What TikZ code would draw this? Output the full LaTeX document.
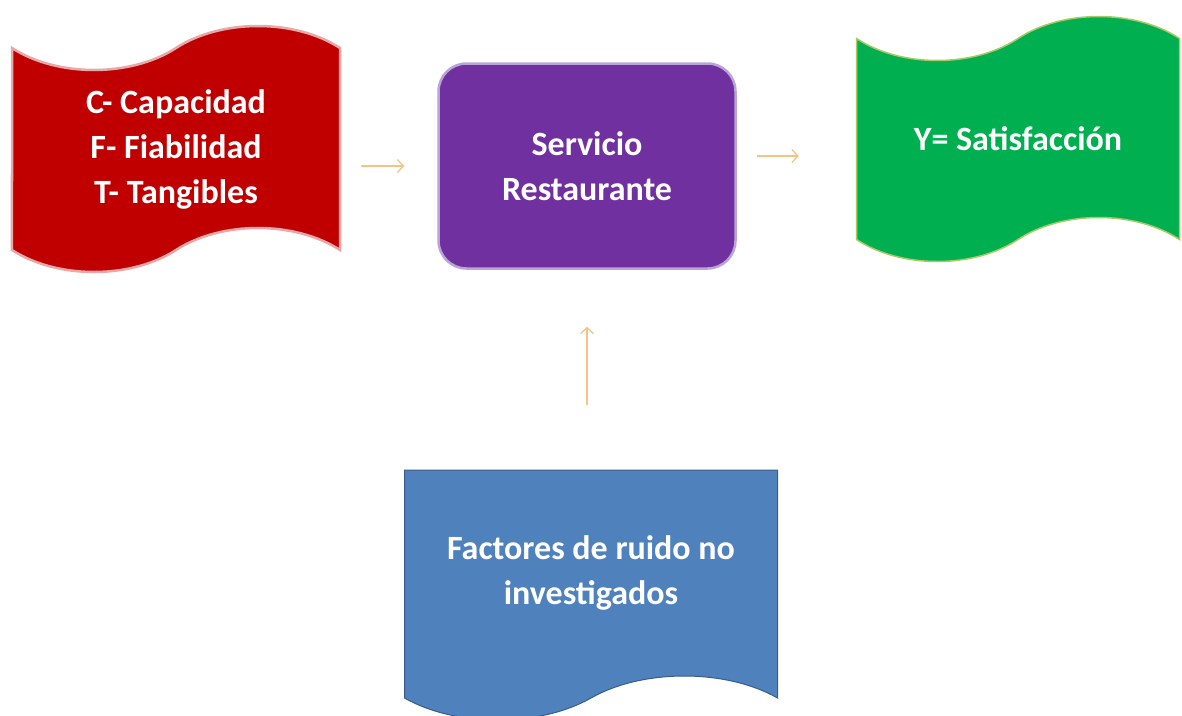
\documentclass[tikz,border=0pt]{standalone}
\usepackage{fontspec}
\setmainfont{Carlito}
\usetikzlibrary{shapes.symbols, arrows.meta, positioning}
\definecolor{factred}{RGB}{192,0,0}
\definecolor{factredline}{RGB}{232,168,168}
\definecolor{servpurple}{RGB}{112,48,160}
\definecolor{servline}{RGB}{184,164,214}
\definecolor{satgreen}{RGB}{0,176,80}
\definecolor{satline}{RGB}{170,200,100}
\definecolor{noiseblue}{RGB}{79,129,189}
\definecolor{noiseline}{RGB}{56,93,138}
\definecolor{flowline}{RGB}{245,196,130}

\begin{document}
\begin{tikzpicture}[x=1pt, y=-1pt,
    boxtext/.style={text=white, font=\fontsize{34}{45}\selectfont\bfseries, align=center},
    flag/.style={tape, tape bend height=44pt, inner sep=0pt},
    flow/.style={-{Straight Barb[length=6pt, width=13pt]}, draw=flowline, line width=1.3pt}]
  \useasboundingbox (0,0) rectangle (1182,715);

  % Inputs and output
  \node[flag, boxtext, fill=factred, draw=factredline, line width=2.5pt,
        minimum width=328pt, minimum height=246pt] (inputs) at (176,149)
        {C- Capacidad\\F- Fiabilidad\\T- Tangibles};
  \node[flag, boxtext, fill=satgreen, draw=satline, line width=1.5pt,
        minimum width=323pt, minimum height=245pt] (sat) at (1018,139)
        {Y= Satisfacción};

  % Process
  \node[boxtext, rectangle, rounded corners=28pt, fill=servpurple, draw=servline,
        line width=2.5pt, minimum width=297pt, minimum height=205pt] (serv) at (587,166)
        {Servicio\\Restaurante};

  % Noise
  \node[tape, tape bend top=none, tape bend height=44pt, boxtext, fill=noiseblue,
        draw=noiseline, line width=1pt, minimum width=373pt, minimum height=250pt,
        inner sep=0pt] (noise) at (591,573)
        {Factores de ruido no\\investigados};

  % Connections
  \draw[flow, shorten <=20pt, shorten >=33pt] (inputs.east |- serv.west) -- (serv.west);
  \draw[flow, shorten <=20pt, shorten >=57pt] ([yshift=10pt]serv.east) -- ([yshift=10pt]serv.east -| sat.west);
  \draw[flow, shorten <=65pt, shorten >=57pt] (serv.south |- noise.north) -- (serv.south);
\end{tikzpicture}
\end{document}
